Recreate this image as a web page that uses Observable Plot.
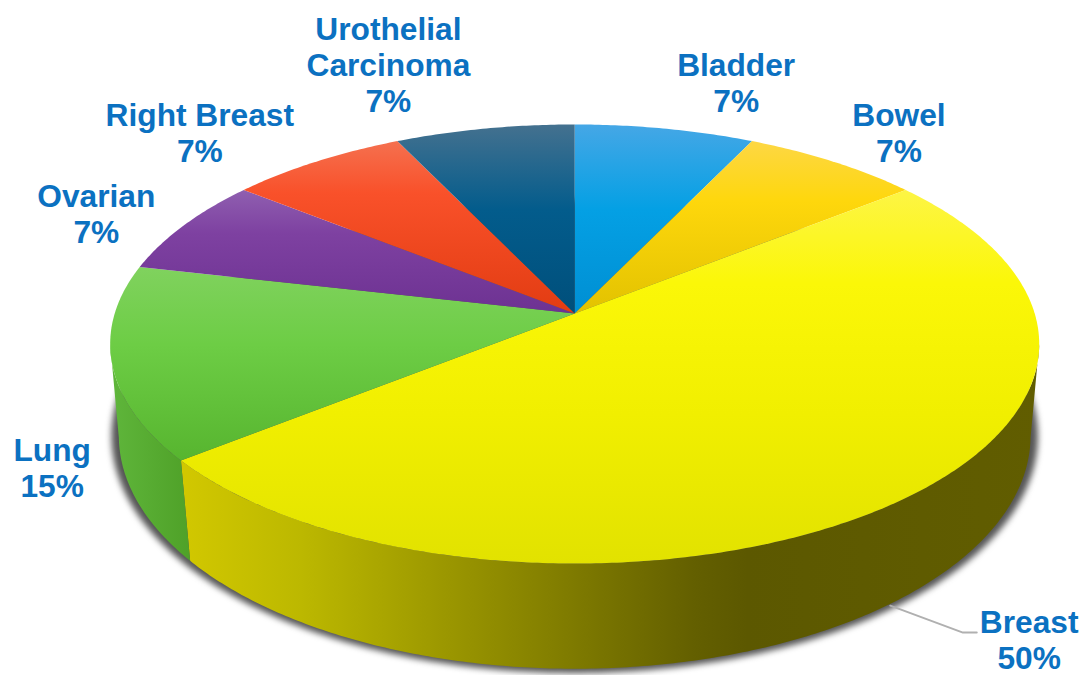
<!DOCTYPE html>
<html>
<head>
<meta charset="utf-8">
<script src="https://cdn.jsdelivr.net/npm/d3@7"></script>
<script src="https://cdn.jsdelivr.net/npm/@observablehq/plot@0.6"></script>
<style>
html,body{margin:0;padding:0;background:#fff;overflow:hidden}
svg g[fill="#555"]{filter:blur(3px)}
</style>
</head>
<body>
<div id="chart"></div>
<script>
// Data
const categories = ["Bladder", "Bowel", "Breast", "Lung", "Ovarian", "Right Breast", "Urothelial\nCarcinoma"];
const cases = [1, 1, 7, 2, 1, 1, 1];
const percentLabels = ["7%", "7%", "50%", "15%", "7%", "7%", "7%"];

// Label anchors in pie units (1 = pie radius)
const labelX = [0.351, 0.705, 0.988, -1.136, -1.040, -0.815, -0.405];
const labelY = [-1.072, -0.841, 1.513, 0.714, -0.465, -0.841, -1.156];
const leaderX = [0.686, 0.844, 0.874];
const leaderY = [1.357, 1.482, 1.482];

// Face gradients: [offset, colour] from top to bottom
const faceStops = [
  [[0, "#45a7e6"], [0.45, "#04a0e4"], [1, "#008fd3"]],
  [[0, "#fdd744"], [0.35, "#fed70c"], [1, "#e2c200"]],
  [[0, "#fdf545"], [0.25, "#fbf708"], [0.6, "#f1ef00"], [1, "#e2e200"]],
  [[0, "#80d25e"], [0.4, "#6dcd45"], [1, "#57b52f"]],
  [[0, "#8f5fb0"], [0.35, "#7e41a1"], [1, "#6d3292"]],
  [[0, "#f5704f"], [0.3, "#f9512a"], [1, "#e23c12"]],
  [[0, "#44718f"], [0.45, "#035c8c"], [1, "#004f7b"]]
];
const sideStops = {
  2: [[0, "#d2c800"], [0.14, "#bcb800"], [0.37, "#8f8b00"], [0.60, "#635f00"], [0.66, "#5c5800"], [1, "#615d00"]],
  3: [[0, "#5fb63b"], [1, "#4fa128"]]
};

// Perspective of the two pie discs
const topDisc = {scale: 1, k: 0.139, cy: 0, ry: 1};
const bottomDisc = {scale: 0.9826, k: 0.13, cy: 0.427, ry: 1.064};
const project = (d, t, grow = 1) => {
  const u = Math.sin(t), v = -Math.cos(t), w = 1 - d.k * v;
  return {x: grow * d.scale * u / w, y: d.cy + grow * d.ry * v / w};
};
const arc = (d, t0, t1, grow) => {
  const n = Math.max(2, Math.ceil(Math.abs(t1 - t0) / 0.01));
  return d3.range(n + 1).map(i => project(d, t0 + (t1 - t0) * i / n, grow));
};

// Slice angles from the data
const total = d3.sum(cases);
const ends = Array.from(d3.cumsum(cases), c => c / total * 2 * Math.PI);
const starts = ends.map((e, i) => (i ? ends[i - 1] : 0));
const tRight = Math.acos(-topDisc.k);
const tLeft = 2 * Math.PI - tRight;

const faces = categories.map((c, i) => [{x: 0, y: 0}, ...arc(topDisc, starts[i], ends[i])]);
const sidePolygon = (a, b) => [...arc(topDisc, a, b), ...arc(bottomDisc, b, a)];
const sides = {
  2: sidePolygon(tRight, ends[2]),
  3: sidePolygon(ends[2], tLeft)
};
const labelRows = categories.map((c, i) => ({
  text: c + "\n" + percentLabels[i], x: labelX[i], y: labelY[i]
}));
const leaderRows = leaderX.map((x, i) => ({x, y: leaderY[i]}));

const gradients = () => {
  const defs = d3.create("svg:defs");
  const add = (id, stops, horizontal) => {
    const g = defs.append("linearGradient").attr("id", id)
      .attr("x1", 0).attr("y1", 0)
      .attr("x2", horizontal ? 1 : 0).attr("y2", horizontal ? 0 : 1);
    stops.forEach(([o, c]) => g.append("stop").attr("offset", o).attr("stop-color", c));
  };
  faceStops.forEach((s, i) => add("face" + i, s, false));
  Object.entries(sideStops).forEach(([i, s]) => add("side" + i, s, true));
  return defs.node();
};

const polygon = (points, fill) =>
  Plot.line(points, {x: "x", y: "y", fill, stroke: "none"});

const chart = Plot.plot({
  width: 1089,
  height: 675,
  margin: 0,
  style: {background: "#fff"},
  x: {domain: [-1, 1], range: [114.2, 1034.2], axis: null},
  y: {domain: [-1, 1], range: [97.7, 528.3], axis: null},
  marks: [
    gradients,
    polygon(arc(bottomDisc, 0, 2 * Math.PI, 1.016), "#555"),
    ...Object.entries(sides).map(([i, pts]) => polygon(pts, `url(#side${i})`)),
    ...faces.map((pts, i) => polygon(pts, `url(#face${i})`)),
    Plot.line(leaderRows, {x: "x", y: "y", stroke: "#b0b0b0", strokeWidth: 2}),
    Plot.text(labelRows, {
      x: "x", y: "y", text: "text",
      fontFamily: "'Liberation Sans', Arial, sans-serif",
      fontWeight: "bold",
      fontSize: 31.7,
      lineHeight: 1.14,
      fill: "#0b71c1"
    })
  ]
});
document.getElementById("chart").append(chart);
</script>
</body>
</html>
